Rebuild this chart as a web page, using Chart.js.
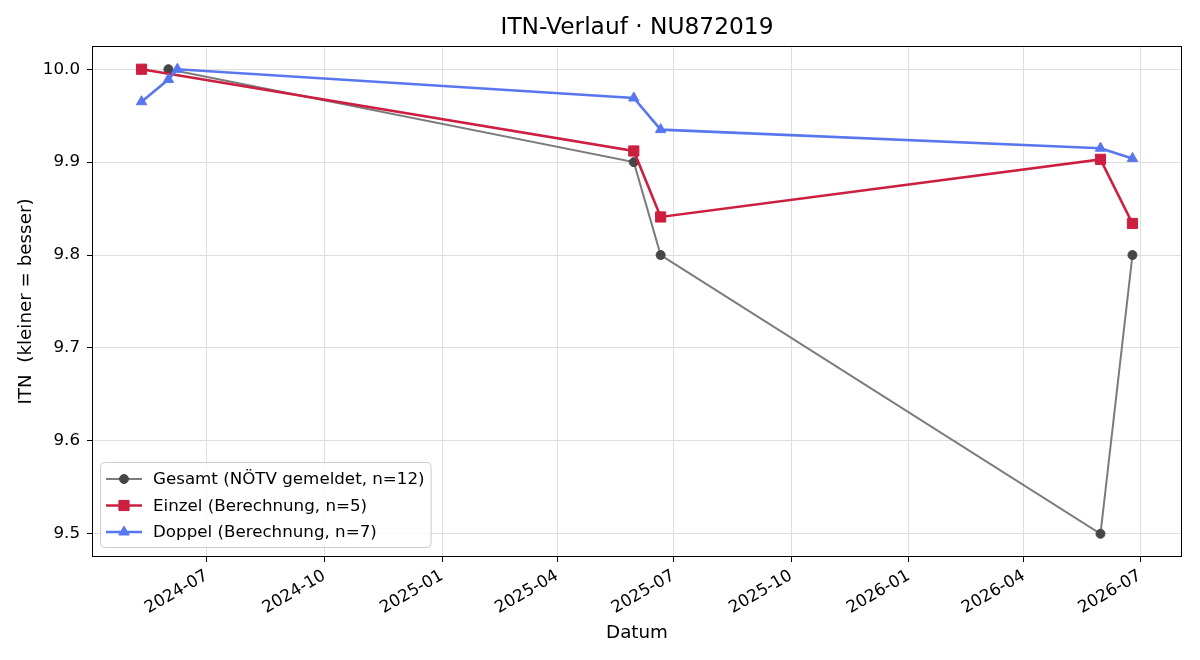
<!DOCTYPE html>
<html lang="de">
<head>
<meta charset="UTF-8">
<title>ITN-Verlauf · NU872019</title>
<script src="https://cdn.jsdelivr.net/npm/chart.js@4.4.1/dist/chart.umd.min.js"></script>
<style>
  body { margin: 0; background: #fff; }
</style>
</head>
<body>
<canvas id="itnChart" width="1200" height="660"></canvas>
<script>
// Daten
var gesamtDates  = ['2024-06-01', '2025-05-31', '2025-06-21', '2026-05-31', '2026-06-25'];
var gesamtValues = [10.0, 9.9, 9.8, 9.5, 9.8];

var einzelDates  = ['2024-05-11', '2025-05-31', '2025-06-21', '2026-05-31', '2026-06-25'];
var einzelValues = [10.0, 9.912, 9.841, 9.903, 9.834];

var doppelDates  = ['2024-05-11', '2024-06-01', '2024-06-08', '2025-05-31', '2025-06-21', '2026-05-31', '2026-06-25'];
var doppelValues = [9.965, 9.989, 10.0, 9.969, 9.935, 9.915, 9.904];

var xTickLabels = ['2024-07', '2024-10', '2025-01', '2025-04', '2025-07', '2025-10', '2026-01', '2026-04', '2026-07'];
var yTickValues = [9.5, 9.6, 9.7, 9.8, 9.9, 10.0];

var seriesNames = ['Gesamt (NÖTV gemeldet, n=12)', 'Einzel (Berechnung, n=5)', 'Doppel (Berechnung, n=7)'];
var chartTitle = 'ITN-Verlauf · NU872019';

function toTime(s) {
    var p = s.split('-');
    return Date.UTC(+p[0], +p[1] - 1, p[2] ? +p[2] : 1);
}
function pad2(n) { return (n < 10 ? '0' : '') + n; }
function fmtMonth(t) {
    var d = new Date(t);
    return d.getUTCFullYear() + '-' + pad2(d.getUTCMonth() + 1);
}
function toPoints(dates, values) {
    return dates.map(function (d, i) { return { x: toTime(d), y: values[i] }; });
}

// matplotlib-artige 5%-Ränder
var allT = gesamtDates.concat(einzelDates, doppelDates).map(toTime);
var allY = gesamtValues.concat(einzelValues, doppelValues);
var tMin = Math.min.apply(null, allT), tMax = Math.max.apply(null, allT);
var yMin = Math.min.apply(null, allY), yMax = Math.max.apply(null, allY);
var tPad = (tMax - tMin) * 0.05, yPad = (yMax - yMin) * 0.05;

var gesamtStyle = { line: '#7b7b7b', point: '#464646', width: 2, style: 'circle', radius: 4.5 };
var einzelStyle = { line: '#cc1f3f', point: '#cc1f3f', width: 2.6, style: 'rect', radius: 7.2 };
var doppelStyle = { line: '#5877ef', point: '#5877ef', width: 2.6, style: 'triangle', radius: 6 };

var FS = 16.7;      // Tick- und Legendenschrift
var FS_AX = 18.3;   // Achsentitel
Chart.defaults.font.family = "'DejaVu Sans', sans-serif";
Chart.defaults.color = '#000';

// Rahmen und Titel (über der Zeichenfläche zentriert) wie bei matplotlib
var frame = {
    id: 'frame',
    afterDraw: function (chart) {
        var a = chart.chartArea, ctx = chart.ctx;
        ctx.save();
        ctx.strokeStyle = '#000';
        ctx.lineWidth = 1;
        ctx.strokeRect(Math.round(a.left) + 0.5, Math.round(a.top) + 0.5,
            Math.round(a.right - a.left) - 1, Math.round(a.bottom - a.top) - 1);
        ctx.fillStyle = '#000';
        ctx.font = '23.3px "DejaVu Sans"';
        ctx.textAlign = 'center';
        ctx.textBaseline = 'middle';
        ctx.fillText(chartTitle, (a.left + a.right) / 2, 28);
        ctx.restore();
    }
};

// Legende innerhalb der Zeichenfläche, unten links
var innerLegend = {
    id: 'innerLegend',
    afterDraw: function (chart) {
        var a = chart.chartArea, ctx = chart.ctx;
        var styles = [gesamtStyle, einzelStyle, doppelStyle];
        ctx.save();
        ctx.font = FS + 'px "DejaVu Sans"';
        var maxW = 0;
        seriesNames.forEach(function (n) { maxW = Math.max(maxW, ctx.measureText(n).width); });
        var x0 = a.left + 8, h = 85, y0 = a.bottom - 10 - h;
        var w = 53 + maxW + 6;
        ctx.beginPath();
        ctx.roundRect(x0 + 0.5, y0 + 0.5, w, h, 4);
        ctx.fillStyle = 'rgba(255,255,255,0.8)';
        ctx.fill();
        ctx.strokeStyle = '#cccccc';
        ctx.lineWidth = 1;
        ctx.stroke();
        seriesNames.forEach(function (n, i) {
            var s = styles[i];
            var y = y0 + 17 + i * 26.5;
            ctx.beginPath();
            ctx.moveTo(x0 + 6, y);
            ctx.lineTo(x0 + 42, y);
            ctx.strokeStyle = s.line;
            ctx.lineWidth = s.width;
            ctx.stroke();
            ctx.fillStyle = s.point;
            ctx.strokeStyle = s.point;
            ctx.lineWidth = 1;
            Chart.helpers.drawPoint(ctx, { pointStyle: s.style, radius: s.radius, rotation: 0, borderWidth: 1 }, x0 + 24, y);
            ctx.fillStyle = '#000';
            ctx.textBaseline = 'middle';
            ctx.textAlign = 'left';
            ctx.fillText(n, x0 + 53, y + 1);
        });
        ctx.restore();
    }
};

function makeSet(label, dates, values, s, order) {
    return {
        label: label,
        data: toPoints(dates, values),
        borderColor: s.line,
        borderWidth: s.width,
        backgroundColor: s.point,
        pointBackgroundColor: s.point,
        pointBorderColor: s.point,
        pointBorderWidth: 1,
        pointStyle: s.style,
        pointRadius: s.radius,
        tension: 0,
        order: order
    };
}

var ctx = document.getElementById('itnChart').getContext('2d');
var chart = new Chart(ctx, {
    type: 'line',
    data: {
        datasets: [
            makeSet(seriesNames[0], gesamtDates, gesamtValues, gesamtStyle, 3),
            makeSet(seriesNames[1], einzelDates, einzelValues, einzelStyle, 2),
            makeSet(seriesNames[2], doppelDates, doppelValues, doppelStyle, 1)
        ]
    },
    options: {
        responsive: false,
        animation: false,
        layout: { padding: { left: 0, right: 18, top: 46, bottom: 0 } },
        plugins: {
            legend: { display: false },
            tooltip: { enabled: false },
            title: { display: false }
        },
        scales: {
            x: {
                type: 'linear',
                min: tMin - tPad,
                max: tMax + tPad,
                afterBuildTicks: function (scale) {
                    scale.ticks = xTickLabels.map(function (l) { return { value: toTime(l) }; });
                },
                afterFit: function (scale) { scale.height = 103; },
                ticks: {
                    autoSkip: false,
                    minRotation: 30,
                    maxRotation: 30,
                    padding: 4,
                    font: { size: FS },
                    callback: function (v) { return fmtMonth(v); }
                },
                grid: { color: '#dedede', tickColor: '#000', tickLength: 5 },
                border: { display: false },
                title: {
                    display: true,
                    text: 'Datum',
                    font: { size: FS_AX },
                    padding: { top: 4, bottom: 16 }
                }
            },
            y: {
                min: yMin - yPad,
                max: yMax + yPad,
                afterBuildTicks: function (scale) {
                    scale.ticks = yTickValues.map(function (v) { return { value: v }; });
                },
                afterFit: function (scale) { scale.width = 92; },
                ticks: {
                    padding: 7,
                    font: { size: FS },
                    callback: function (v) { return v.toFixed(1); }
                },
                grid: { color: '#dedede', tickColor: '#000', tickLength: 5 },
                border: { display: false },
                title: {
                    display: true,
                    text: 'ITN  (kleiner = besser)',
                    font: { size: FS_AX },
                    padding: { top: 15, bottom: 4 }
                }
            }
        }
    },
    plugins: [frame, innerLegend]
});
</script>
</body>
</html>
